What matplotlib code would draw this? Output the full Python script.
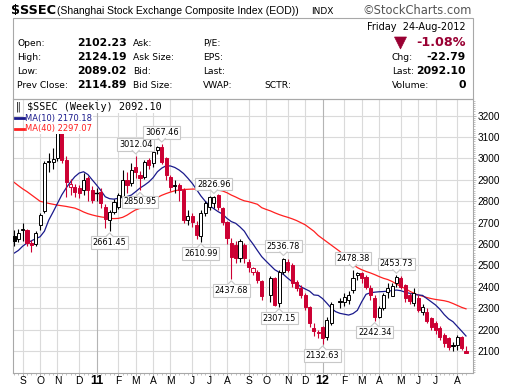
import matplotlib
matplotlib.use('Agg')
import matplotlib.pyplot as plt
from matplotlib.patches import Rectangle, Polygon
from matplotlib.lines import Line2D
from matplotlib import font_manager
import numpy as np

# ---------------- data ----------------
symbol = '$SSEC'
period = 'Weekly'
last_close = 2092.10
ma10_last = 2170.18
ma40_last = 2297.07
nan = np.nan

# weekly bars, Aug 23 2010 .. Aug 20 2012 (holiday weeks empty)
opens = [2638, 2622, 2664, 2666, 2604, 2600, 2690, 2756, 2988, 2985,
         3000, 3130, 2993, 2868, 2868, 2864, 2853, 2907, 2853, 2838,
         2845, 2775, 2713, 2751, 2775, 2821, 2899, 2884, 2960, 2923,
         2915, 2993, 2977, 3042, 3052, 3000, 2915, 2875, 2875, 2853,
         2712, 2730, 2689, 2638, 2745, 2775, 2792, 2829, 2768, 2704,
         2605, 2596, 2533, 2596, 2517, 2470, 2470, 2425, nan, 2362,
         2440, 2323, 2470, 2517, 2502, 2424, 2393, 2362, 2307, 2206,
         2183, 2210, 2167, 2229, nan, 2334, 2330, 2339, 2385, 2455,
         2463, 2447, 2393, 2346, 2260, 2300, 2378, 2358, 2416, 2440,
         2408, 2362, 2323, 2346, 2284, 2284, 2253, 2232, 2206, 2175,
         2159, 2126, 2128, 2167, 2102.23]
highs = [2666, 2672, 2700, 2672, 2619, 2660, 2745, 2990, 3024, 3050,
         3186, 3140, 3010, 2903, 2880, 2875, 2930, 2920, 2870, 2860,
         2860, 2785, 2760, 2810, 2840, 2946, 2935, 2980, 3012.04, 2940,
         2995, 3000, 3040, 3060, 3067.46, 3005, 2925, 2900, 2885, 2860,
         2760, 2745, 2710, 2760, 2800, 2826, 2826.96, 2835, 2775, 2710,
         2630, 2615, 2625, 2605, 2530, 2495, 2480, 2430, nan, 2450,
         2445, 2480, 2536.78, 2530, 2510, 2430, 2410, 2370, 2310, 2230,
         2200, 2215, 2260, 2330, nan, 2350, 2372, 2380, 2478.38, 2470,
         2470, 2455, 2410, 2360, 2310, 2370, 2420, 2418, 2453.73, 2450,
         2415, 2370, 2395, 2360, 2320, 2300, 2260, 2240, 2215, 2185,
         2165, 2140, 2175, 2172, 2124.19]
lows = [2591, 2610, 2615, 2590, 2563, 2590, 2665, 2745, 2938, 2950,
        2990, 2980, 2821, 2830, 2820, 2815, 2830, 2800, 2790, 2800,
        2770, 2674, 2661.45, 2740, 2765, 2815, 2840, 2870, 2910, 2850.95,
        2905, 2950, 2960, 3020, 2975, 2900, 2850, 2840, 2800, 2700,
        2690, 2680, 2625, 2610.99, 2730, 2760, 2770, 2760, 2690, 2600,
        2437.68, 2510, 2515, 2510, 2470, 2455, 2420, 2340, nan, 2330,
        2310, 2307.15, 2460, 2470, 2400, 2380, 2350, 2290, 2210, 2170,
        2160, 2132.63, 2150, 2220, nan, 2300, 2310, 2320, 2370, 2430,
        2420, 2390, 2340, 2242.34, 2255, 2290, 2350, 2355, 2400, 2390,
        2330, 2320, 2310, 2280, 2270, 2230, 2200, 2180, 2150, 2120,
        2105, 2100, 2105, 2105, 2089.02]
closes = [2615, 2653, 2670, 2604, 2596, 2653, 2738, 2979, 2985, 2998,
          3129, 2993, 2888, 2879, 2845, 2840, 2899, 2853, 2806, 2837,
          2790, 2716, 2752, 2798, 2827, 2899, 2876, 2946, 2937, 2909,
          2985, 2970, 3032, 3052, 2983, 2925, 2868, 2871, 2853, 2712,
          2731, 2705, 2642, 2747, 2792, 2821, 2822, 2775, 2704, 2627,
          2541, 2535, 2614, 2533, 2494, 2486, 2432, 2359, nan, 2440,
          2315, 2470, 2529, 2479, 2420, 2393, 2364, 2307, 2230, 2192,
          2190, 2163, 2245, 2320, nan, 2330, 2354, 2363, 2440, 2463,
          2440, 2400, 2362, 2260, 2300, 2362, 2395, 2402, 2448, 2400,
          2346, 2335, 2370, 2290, 2307, 2240, 2214, 2200, 2167, 2136,
          2120, 2124, 2167, 2113, 2092.10]

ma10 = [2557, 2570, 2590, 2605, 2615, 2625, 2634, 2660, 2712, 2750,
        2790, 2830, 2862, 2890, 2915, 2932, 2938, 2925, 2900, 2876,
        2850, 2821, 2812, 2810, 2814, 2818, 2822, 2829, 2845, 2862,
        2875, 2890, 2910, 2938, 2955, 2966, 2965, 2958, 2946, 2930,
        2908, 2884, 2855, 2825, 2800, 2780, 2765, 2751, 2740, 2720,
        2705, 2697, 2680, 2660, 2627, 2600, 2570, 2541, 2520, 2500,
        2480, 2468, 2458, 2440, 2424, 2416, 2400, 2390, 2380, 2362,
        2360, 2345, 2323, 2300, 2284, 2276, 2272, 2268, 2275, 2290,
        2330, 2365, 2372, 2375, 2377, 2378, 2380, 2382, 2385, 2382,
        2375, 2370, 2365, 2362, 2360, 2345, 2330, 2315, 2295, 2270,
        2250, 2237, 2215, 2193, 2170.18]
ma40 = [2889, 2873, 2858, 2845, 2830, 2815, 2800, 2795, 2790, 2786,
        2782, 2779, 2776, 2772, 2768, 2760, 2750, 2742, 2736, 2731,
        2727, 2724, 2720, 2719, 2720, 2725, 2735, 2748, 2760, 2767,
        2778, 2790, 2805, 2818, 2828, 2836, 2843, 2849, 2853, 2855,
        2856, 2857, 2857, 2857, 2856, 2855, 2854, 2852, 2848, 2840,
        2829, 2820, 2810, 2802, 2798, 2792, 2786, 2770, 2762, 2755,
        2746, 2738, 2731, 2725, 2718, 2710, 2700, 2690, 2675, 2660,
        2640, 2625, 2610, 2595, 2580, 2565, 2545, 2525, 2505, 2490,
        2480, 2472, 2465, 2457, 2448, 2440, 2434, 2425, 2413, 2402,
        2392, 2380, 2370, 2362, 2356, 2350, 2345, 2341, 2338, 2335,
        2330, 2322, 2313, 2304, 2297.07]

month_pos = [2, 6, 10, 15, 19, 24, 28, 32, 36, 41, 45, 49, 54, 58, 63, 67, 71,
             76, 80, 84, 89, 93, 97, 102]
month_labels = ['S', 'O', 'N', 'D', '11', 'F', 'M', 'A', 'M', 'J', 'J', 'A',
                'S', 'O', 'N', 'D', '12', 'F', 'M', 'A', 'M', 'J', 'J', 'A']
price_ticks = [2100, 2200, 2300, 2400, 2500, 2600, 2700, 2800, 2900, 3000, 3100, 3200]

# annotations: (bar, value, 'hi'/'lo')
notes = [(22, 2661.45, 'lo'), (28, 3012.04, 'hi'), (29, 2850.95, 'lo'),
         (34, 3067.46, 'hi'), (43, 2610.99, 'lo'), (46, 2826.96, 'hi'),
         (50, 2437.68, 'lo'), (61, 2307.15, 'lo'), (62, 2536.78, 'hi'),
         (71, 2132.63, 'lo'), (78, 2478.38, 'hi'), (83, 2242.34, 'lo'),
         (88, 2453.73, 'hi')]

header_labels = [['Open:', 'High:', 'Low:', 'Prev Close:'],
                 ['Ask:', 'Ask Size:', 'Bid:', 'Bid Size:'],
                 ['P/E:', 'EPS:', 'Last:', 'VWAP:']]
header_values = ['2102.23', '2124.19', '2089.02', '2114.89']
right_labels = ['Chg:', 'Last:', 'Volume:']
right_values = ['-22.79', '2092.10', '0']

# ---------------- figure ----------------
W, H = 511, 388
fig = plt.figure(figsize=(W / 100, H / 100), dpi=100)

def fx(x):
    return x / W

def fy(y):
    return 1 - y / H

names = {f.name for f in font_manager.fontManager.ttflist}
NARROW = 'Liberation Sans Narrow' if 'Liberation Sans Narrow' in names else 'Liberation Sans'
SANS = 'DejaVu Sans'
ARIAL = 'Liberation Sans'
MONO = 'DejaVu Sans Mono'

RED = '#cc0033'
DARKRED = '#990033'
NAVY = '#1a1a8c'
MARED = '#ff2020'
GRID = '#dadada'
FRAME = '#a8a8a8'

# title line
fig.text(fx(11.5), fy(14), symbol, family=SANS, weight='bold', fontsize=9.3, va='baseline')
fig.text(fx(57), fy(14), '(Shanghai Stock Exchange Composite Index (EOD))', family=ARIAL,
         fontsize=7.5, va='baseline')
fig.text(fx(311), fy(14), 'INDX', family=SANS, fontsize=6.5, va='baseline')
fig.text(fx(472), fy(14), '\u00a9StockCharts.com', family=SANS, fontsize=8.3, va='baseline',
         ha='right', color='#555555')

# header box
fig.add_artist(Rectangle((fx(12.5), fy(99)), (472.5 - 12.5) / W, (99 - 18.5) / H,
                         transform=fig.transFigure, fill=False, ec=FRAME, lw=0.8))
rows_y = [43, 57, 71, 85]
cols_x = [17, 133, 203]
for c, col in enumerate(header_labels):
    for r, lab in enumerate(col):
        fig.text(fx(cols_x[c]), fy(rows_y[r]), lab, family=SANS, fontsize=6.6, va='center')
for r, v in enumerate(header_values):
    fig.text(fx(127), fy(rows_y[r]), v, family=SANS, weight='bold', fontsize=7.8,
             va='center', ha='right')
fig.text(fx(264), fy(85), 'SCTR:', family=SANS, fontsize=6.6, va='center')

fig.text(fx(466), fy(27), 'Friday  24-Aug-2012', family=SANS, fontsize=7, va='center', ha='right')
fig.add_artist(Polygon([(fx(394.5), fy(37)), (fx(406.5), fy(37)), (fx(400.5), fy(49))],
                       closed=True, transform=fig.transFigure, fc=DARKRED, ec=DARKRED, lw=0.5))
fig.text(fx(466), fy(43), '-1.08%', family=SANS, weight='bold', fontsize=9.2,
         color=DARKRED, va='center', ha='right')
for r, (lab, v) in enumerate(zip(right_labels, right_values)):
    fig.text(fx(392), fy(rows_y[r + 1]), lab, family=SANS, fontsize=6.6, va='center')
    fig.text(fx(466), fy(rows_y[r + 1]), v, family=SANS, weight='bold', fontsize=7.8,
             va='center', ha='right')

# ---------------- main chart ----------------
left_px, right_px, top_px, bot_px = 12.5, 472.5, 99, 373
ax = fig.add_axes([fx(left_px), fy(bot_px), (right_px - left_px) / W, (bot_px - top_px) / H])
n = len(closes)
first_px, last_px = 14.0, 466.0
step = (last_px - first_px) / (n - 1)
ax.set_xlim(-(first_px - left_px) / step, (n - 1) + (right_px - last_px) / step)
ppx = 100 / 21.39
ax.set_ylim(2100 - (bot_px - 351) * ppx, 2100 + (351 - top_px) * ppx)

for s in ax.spines.values():
    s.set_color(FRAME)
    s.set_linewidth(0.8)
ax.set_facecolor('white')

# grid
for p in price_ticks:
    ax.axhline(p, color=GRID, lw=0.8, zorder=0)
for pos, lab in zip(month_pos, month_labels):
    ax.axvline(pos, color='#b4b4b4' if lab in ('11', '12') else GRID, lw=0.8, zorder=0)

ax.yaxis.tick_right()
ax.set_yticks(price_ticks)
ax.set_yticklabels([str(p) for p in price_ticks], family=NARROW, fontsize=7.2)
ax.set_yticks(np.arange(2000, 3280, 10), minor=True)
ax.tick_params(axis='y', which='major', length=2, width=0.6, color=FRAME, pad=1.5)
ax.tick_params(axis='y', which='minor', length=1.5, width=0.5, color=FRAME)
ax.set_xticks(month_pos)
ax.set_xticklabels([])
ax.set_xticks(np.arange(0, n), minor=True)
ax.tick_params(axis='x', which='major', length=2, width=0.6, color=FRAME)
ax.tick_params(axis='x', which='minor', length=1.5, width=0.5, color=FRAME)

# moving averages
xs = np.arange(n)
ax.plot(xs, ma40, color=MARED, lw=0.9, zorder=2)
ax.plot(xs, ma10, color=NAVY, lw=0.9, zorder=2)

# candles
bw = 0.72
prev = None
for i in range(n):
    o, h, l, c = opens[i], highs[i], lows[i], closes[i]
    if np.isnan(c):
        continue
    col = 'black' if (prev is None or c >= prev) else RED
    ax.plot([i, i], [l, h], color=col, lw=0.8, zorder=3, solid_capstyle='butt')
    lo, hi = min(o, c), max(o, c)
    if hi - lo < 1.5:
        ax.plot([i - bw / 2, i + bw / 2], [c, c], color=col, lw=1.0, zorder=4)
    else:
        fc = 'white' if c > o else col
        ax.add_patch(Rectangle((i - bw / 2, lo), bw, hi - lo, fc=fc, ec=col, lw=0.7, zorder=4))
    prev = c

fig.canvas.draw()
to_fig = fig.transFigure.inverted()

# month labels below the axis
for pos, lab in zip(month_pos, month_labels):
    px, _ = ax.transData.transform((pos, 0))
    xf = to_fig.transform((px, 0))[0]
    if lab in ('11', '12'):
        fig.text(xf, fy(381), lab, family=ARIAL, weight='bold', fontsize=9, ha='center',
                 va='center')
    else:
        fig.text(xf, fy(381), lab, family=NARROW, fontsize=7.4, ha='center', va='center')

# annotations with caret
for bar, val, kind in notes:
    dx, dy = ax.transData.transform((bar, val))
    sign = 1 if kind == 'hi' else -1
    gap = 7
    ax.annotate(f'{val:.2f}', xy=(bar, val), xytext=(0, sign * gap * 0.72),
                textcoords='offset points', ha='center',
                va='bottom' if kind == 'hi' else 'top', family=SANS, fontsize=5.9,
                bbox=dict(boxstyle='square,pad=0.22', fc='white', ec='#c8c8c8', lw=0.8),
                zorder=6)
    pts = [(dx - 4, dy + sign * (gap - 1)), (dx, dy + sign * 2), (dx + 4, dy + sign * (gap - 1))]
    fpts = [to_fig.transform(p) for p in pts]
    fig.add_artist(Polygon(fpts, closed=False, transform=fig.transFigure, fc='white',
                           ec='#c8c8c8', lw=0.8, zorder=7))

# legend
wb = dict(boxstyle='square,pad=0.12', fc='white', ec='none')
fig.text(fx(16), fy(107), '\u2016', family=SANS, fontsize=7, va='center', bbox=wb)
fig.text(fx(27), fy(107), f'{symbol} ({period}) {last_close:.2f}', family=MONO, fontsize=7.3,
         va='center', bbox=wb)
fig.text(fx(25), fy(118), f'MA(10) {ma10_last:.2f}', family=SANS, fontsize=6, va='center',
         color=NAVY, bbox=wb)
fig.text(fx(25), fy(128.5), f'MA(40) {ma40_last:.2f}', family=SANS, fontsize=6, va='center',
         color=MARED, bbox=wb)
fig.add_artist(Line2D([fx(15), fx(24)], [fy(118), fy(118)], color=NAVY, lw=2, zorder=5))
fig.add_artist(Line2D([fx(15), fx(24)], [fy(128.5), fy(128.5)], color=MARED, lw=2, zorder=5))

fig.savefig('out.png', dpi=100)
